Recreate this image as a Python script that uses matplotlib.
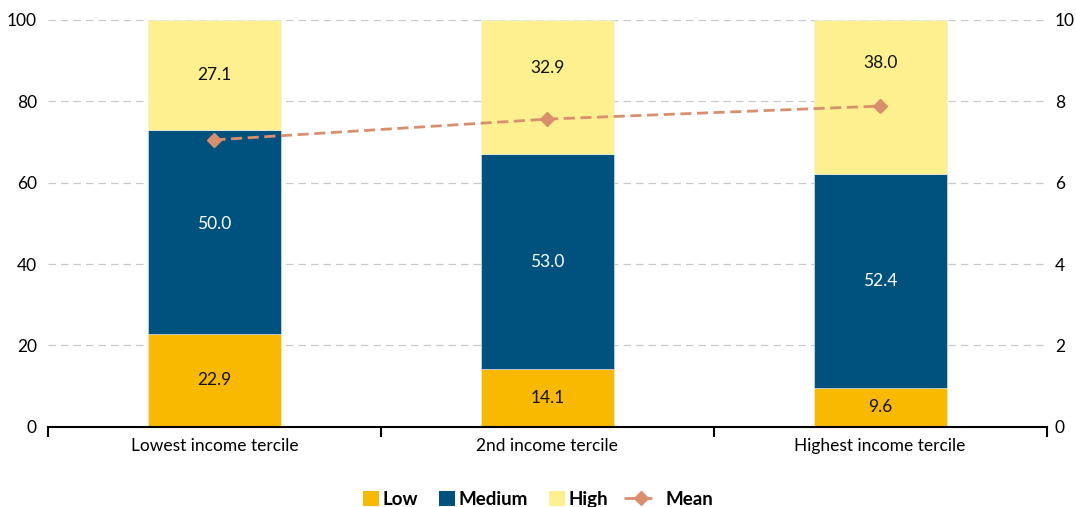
import matplotlib
matplotlib.use('Agg')
import matplotlib.pyplot as plt
import numpy as np
from matplotlib.lines import Line2D
from matplotlib.patches import Patch

plt.rcParams['font.family'] = ['Lato', 'DejaVu Sans']

categories = ['Lowest income tercile', '2nd income tercile', 'Highest income tercile']
low = [22.9, 14.1, 9.6]
medium = [50.0, 53.0, 52.4]
high = [27.1, 32.9, 38.0]
mean = [7.05, 7.56, 7.88]

# where the labels of the top segment sit (kept clear of the mean line)
high_label_y = [86.5, 88.2, 89.5]

LOW_C = '#F9B900'
MED_C = '#00527E'
HIGH_C = '#FEF08F'
MEAN_C = '#D98F6E'

fig = plt.figure(figsize=(10.76, 5.07), dpi=100)
ax = fig.add_axes([0.0446, 0.158, 0.928, 0.803])
ax2 = ax.twinx()

x = np.arange(len(categories))
w = 0.4
low_arr = np.array(low)
med_arr = np.array(medium)
high_arr = np.array(high)

ax.bar(x, low_arr, w, color=LOW_C, edgecolor='#e8eef3', linewidth=0.4, zorder=2)
ax.bar(x, med_arr, w, bottom=low_arr, color=MED_C, edgecolor='#e8eef3', linewidth=0.4, zorder=2)
ax.bar(x, high_arr, w, bottom=low_arr + med_arr, color=HIGH_C, edgecolor='#e8eef3', linewidth=0.4, zorder=2)

for i in range(len(categories)):
    ax.text(x[i], low_arr[i] / 2, f'{low[i]:.1f}', ha='center', va='center', fontsize=12.5, color='#111111', zorder=3)
    ax.text(x[i], low_arr[i] + med_arr[i] / 2 + (2 if i == 0 else 0), f'{medium[i]:.1f}', ha='center', va='center',
            fontsize=12.5, color='white', zorder=3)
    ax.text(x[i], high_label_y[i], f'{high[i]:.1f}', ha='center', va='center', fontsize=12.5, color='#111111', zorder=3)

ax2.plot(x, mean, color=MEAN_C, ls=(0, (4, 2)), lw=2, marker='D', ms=7.5, zorder=4)

ax.set_xlim(-0.5, 2.5)
ax.set_ylim(0, 100)
ax2.set_ylim(0, 10)
ax.set_yticks(np.arange(0, 101, 20))
ax2.set_yticks(np.arange(0, 11, 2))
ax.yaxis.grid(True, color='#c8c8c8', ls=(0, (6, 4)), lw=0.9)
ax.set_axisbelow(True)

ax.set_xticks(x)
ax.set_xticklabels(categories)
ax.set_xticks([-0.5, 0.5, 1.5, 2.5], minor=True)
ax.tick_params(axis='x', which='major', length=0, labelsize=12.5, pad=8)
ax.tick_params(axis='x', which='minor', length=7, width=1.5, direction='out', color='black')
ax.tick_params(axis='y', length=0, labelsize=12.5, pad=8)
ax2.tick_params(axis='y', length=0, labelsize=12.5, pad=6)

for a in (ax, ax2):
    for s in ('top', 'left', 'right'):
        a.spines[s].set_visible(False)
ax2.spines['bottom'].set_visible(False)
ax.spines['bottom'].set_linewidth(1.5)

ax.set_zorder(1)
ax2.set_zorder(2)
ax2.patch.set_visible(False)

# legend in two parts: square keys, then the wider line key
leg_font = {'weight': 'bold', 'size': 13.5}
bar_handles = [
    Patch(facecolor=LOW_C, label='Low'),
    Patch(facecolor=MED_C, label='Medium'),
    Patch(facecolor=HIGH_C, label='High'),
]
mean_handle = [Line2D([0], [0], color=MEAN_C, ls=(0, (4, 2)), lw=2, marker='D', ms=7.5, label='Mean')]

leg1 = fig.legend(handles=bar_handles, loc='lower right', bbox_to_anchor=(608 / 1076, -0.002), ncol=3,
                  frameon=False, prop=leg_font, handlelength=0.85, handleheight=0.85, handletextpad=0.2,
                  columnspacing=1.1, borderpad=0, borderaxespad=0)
leg2 = fig.legend(handles=mean_handle, loc='lower left', bbox_to_anchor=(624 / 1076, -0.002), ncol=1,
                  frameon=False, prop=leg_font, handlelength=1.76, handletextpad=0.45,
                  borderpad=0, borderaxespad=0)

fig.savefig('out.png', dpi=100)
